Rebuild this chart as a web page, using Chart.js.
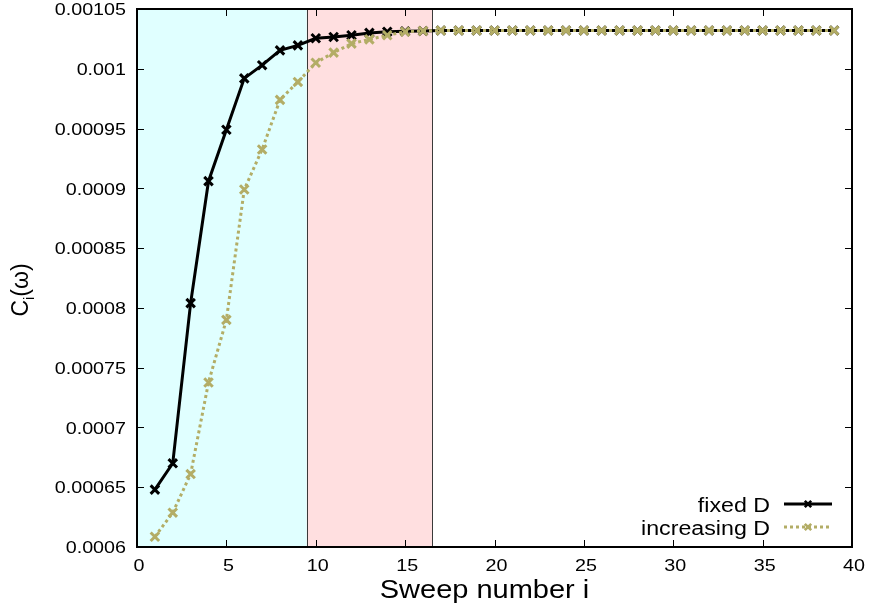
<!DOCTYPE html>
<html>
<head>
<meta charset="utf-8">
<script src="https://cdn.jsdelivr.net/npm/chart.js@4/dist/chart.umd.min.js"></script>
<style>
  html, body { margin: 0; padding: 0; background: #ffffff; }
  canvas { display: block; }
</style>
</head>
<body>
<canvas id="c" width="870" height="610"></canvas>
<script>
// Sweep index
const sweeps = [1, 2, 3, 4, 5, 6, 7, 8, 9, 10, 11, 12, 13, 14, 15, 16, 17, 18, 19, 20,
                21, 22, 23, 24, 25, 26, 27, 28, 29, 30, 31, 32, 33, 34, 35, 36, 37, 38, 39];

// C_i(omega) with fixed bond dimension
const fixedD = [0.000648, 0.000670, 0.000804, 0.000906, 0.000949, 0.000992, 0.001003, 0.0010154,
                0.0010196, 0.0010255, 0.0010266, 0.001028, 0.00103, 0.001031, 0.0010313, 0.0010316,
                0.001032, 0.001032, 0.001032, 0.001032, 0.001032, 0.001032, 0.001032, 0.001032,
                0.001032, 0.001032, 0.001032, 0.001032, 0.001032, 0.001032, 0.001032, 0.001032,
                0.001032, 0.001032, 0.001032, 0.001032, 0.001032, 0.001032, 0.001032];

// C_i(omega) with increasing bond dimension
const increasingD = [0.0006086, 0.0006287, 0.000661, 0.0007376, 0.00079, 0.000899, 0.0009325, 0.000974,
                     0.000989, 0.001005, 0.0010135, 0.001021, 0.0010246, 0.001028, 0.001031, 0.0010316,
                     0.001032, 0.001032, 0.001032, 0.001032, 0.001032, 0.001032, 0.001032, 0.001032,
                     0.001032, 0.001032, 0.001032, 0.001032, 0.001032, 0.001032, 0.001032, 0.001032,
                     0.001032, 0.001032, 0.001032, 0.001032, 0.001032, 0.001032, 0.001032];

const seriesNames = ['fixed D', 'increasing D'];

// Shaded sweep ranges (start, end)
const regionStarts = [0, 9.5];
const regionEnds = [9.5, 16.5];

// Axis ranges and tick steps
const xRange = [0, 40];
const xStep = 5;
const yRange = [0.0006, 0.00105];
const yStep = 0.00005;

const regionColors = ['#e0ffff', '#ffdfe0'];
const FONT = '"Liberation Sans", Arial, Helvetica, sans-serif';
const SX = 1.16; // horizontal text stretch

function stretchedText(ctx, text, x, y, align, size, sx) {
  const k = sx === undefined ? SX : sx;
  ctx.font = size + 'px ' + FONT;
  const w = ctx.measureText(text).width * k;
  let x0 = x;
  if (align === 'right') x0 = x - w;
  else if (align === 'center') x0 = x - w / 2;
  ctx.save();
  ctx.translate(x0, y);
  ctx.scale(k, 1);
  ctx.textAlign = 'left';
  ctx.textBaseline = 'alphabetic';
  ctx.fillText(text, 0, 0);
  ctx.restore();
  return w;
}

function fmt(v) {
  return String(parseFloat(v.toPrecision(6)));
}

function drawCross(ctx, x, y, d, color, lw) {
  ctx.save();
  ctx.setLineDash([]);
  ctx.strokeStyle = color;
  ctx.lineWidth = lw;
  ctx.beginPath();
  ctx.moveTo(x - d, y - d); ctx.lineTo(x + d, y + d);
  ctx.moveTo(x - d, y + d); ctx.lineTo(x + d, y - d);
  ctx.stroke();
  ctx.restore();
}

const framePlugin = {
  id: 'framePlugin',
  beforeDatasetsDraw(chart) {
    const ctx = chart.ctx;
    const area = chart.chartArea;
    const xs = chart.scales.x;
    ctx.save();
    for (let i = 0; i < regionStarts.length; i++) {
      const x0 = xs.getPixelForValue(regionStarts[i]);
      const x1 = xs.getPixelForValue(regionEnds[i]);
      ctx.fillStyle = regionColors[i];
      ctx.fillRect(x0, area.top, x1 - x0, area.bottom - area.top);
    }
    ctx.strokeStyle = '#3a3a3a';
    ctx.lineWidth = 1;
    const dividers = new Set();
    for (let i = 0; i < regionEnds.length; i++) dividers.add(regionEnds[i]);
    dividers.forEach(v => {
      const px = Math.round(xs.getPixelForValue(v)) + 0.5;
      ctx.beginPath();
      ctx.moveTo(px, area.top);
      ctx.lineTo(px, area.bottom);
      ctx.stroke();
    });
    ctx.restore();
  },
  afterDatasetsDraw(chart) {
    const ctx = chart.ctx;
    const area = chart.chartArea;
    const xs = chart.scales.x;
    const ys = chart.scales.y;
    const tl = 7;
    ctx.save();

    // inward ticks on all four sides
    ctx.strokeStyle = '#000';
    ctx.lineWidth = 1;
    ctx.beginPath();
    xs.ticks.forEach(t => {
      const px = Math.round(xs.getPixelForValue(t.value)) + 0.5;
      ctx.moveTo(px, area.bottom); ctx.lineTo(px, area.bottom - tl);
      ctx.moveTo(px, area.top); ctx.lineTo(px, area.top + tl);
    });
    ys.ticks.forEach(t => {
      const py = Math.round(ys.getPixelForValue(t.value)) + 0.5;
      ctx.moveTo(area.left, py); ctx.lineTo(area.left + tl, py);
      ctx.moveTo(area.right, py); ctx.lineTo(area.right - tl, py);
    });
    ctx.stroke();

    // frame
    ctx.lineWidth = 2;
    ctx.strokeRect(area.left, area.top, area.right - area.left, area.bottom - area.top);

    // tick labels
    ctx.fillStyle = '#000';
    xs.ticks.forEach(t => {
      stretchedText(ctx, fmt(t.value), xs.getPixelForValue(t.value) + 2, area.bottom + 24, 'center', 17);
    });
    ys.ticks.forEach(t => {
      stretchedText(ctx, fmt(t.value), area.left - 11, ys.getPixelForValue(t.value) + 6.2, 'right', 17);
    });

    // x axis title
    stretchedText(ctx, 'Sweep number i', (area.left + area.right) / 2 - 10, 598, 'center', 25);

    // y axis title: C_i(ω), reading upwards
    ctx.save();
    ctx.translate(28, 290);
    ctx.rotate(-Math.PI / 2);
    ctx.font = '23px ' + FONT;
    const wC = ctx.measureText('C').width;
    const wP = ctx.measureText('(ω)').width;
    ctx.font = '15px ' + FONT;
    const wI = ctx.measureText('i').width;
    let sx = -(wC + wI + wP) / 2;
    stretchedText(ctx, 'C', sx, 0, 'left', 23, 1);
    sx += wC;
    stretchedText(ctx, 'i', sx, 6, 'left', 15, 1);
    sx += wI;
    stretchedText(ctx, '(ω)', sx, 0, 'left', 23, 1);
    ctx.restore();

    // key
    const textRight = 770;
    const lineX0 = 784, lineX1 = 832;
    const rowY = [504, 527];
    chart.data.datasets.forEach((ds, i) => {
      const cy = rowY[i];
      ctx.fillStyle = '#000';
      stretchedText(ctx, ds.label, textRight, cy + 8, 'right', 20);
      ctx.save();
      ctx.strokeStyle = ds.borderColor;
      ctx.lineWidth = ds.borderWidth;
      ctx.setLineDash(ds.borderDash || []);
      ctx.beginPath();
      ctx.moveTo(lineX0, cy);
      ctx.lineTo(lineX1, cy);
      ctx.stroke();
      ctx.restore();
      drawCross(ctx, (lineX0 + lineX1) / 2, cy, 3.2, ds.pointBorderColor, 2.6);
    });

    ctx.restore();
  }
};

function toPoints(ys) {
  return sweeps.map((s, i) => ({ x: s, y: ys[i] }));
}

const olive = '#b3ad66';

new Chart(document.getElementById('c'), {
  type: 'scatter',
  data: {
    datasets: [
      {
        label: seriesNames[0],
        data: toPoints(fixedD),
        showLine: true,
        borderColor: '#000000',
        backgroundColor: '#000000',
        borderWidth: 3,
        pointStyle: 'crossRot',
        pointRadius: 6,
        pointBorderWidth: 3,
        pointBorderColor: '#000000',
        pointBackgroundColor: '#000000',
        order: 2
      },
      {
        label: seriesNames[1],
        data: toPoints(increasingD),
        showLine: true,
        borderColor: olive,
        backgroundColor: olive,
        borderWidth: 3,
        borderDash: [3, 3],
        borderCapStyle: 'butt',
        pointStyle: 'crossRot',
        pointRadius: 6,
        pointBorderWidth: 3,
        pointBorderColor: olive,
        pointBackgroundColor: olive,
        order: 1
      }
    ]
  },
  options: {
    responsive: false,
    animation: false,
    devicePixelRatio: 1,
    layout: { padding: { left: 0, right: 18, top: 9, bottom: 0 }, autoPadding: false },
    plugins: {
      legend: { display: false },
      tooltip: { enabled: false }
    },
    scales: {
      x: {
        type: 'linear',
        min: xRange[0],
        max: xRange[1],
        ticks: { stepSize: xStep, display: false },
        grid: { display: false },
        border: { display: false },
        afterFit(scale) { scale.height = 63; }
      },
      y: {
        type: 'linear',
        min: yRange[0],
        max: yRange[1],
        ticks: { stepSize: yStep, display: false },
        grid: { display: false },
        border: { display: false },
        afterFit(scale) { scale.width = 137; }
      }
    }
  },
  plugins: [framePlugin]
});
</script>
</body>
</html>
